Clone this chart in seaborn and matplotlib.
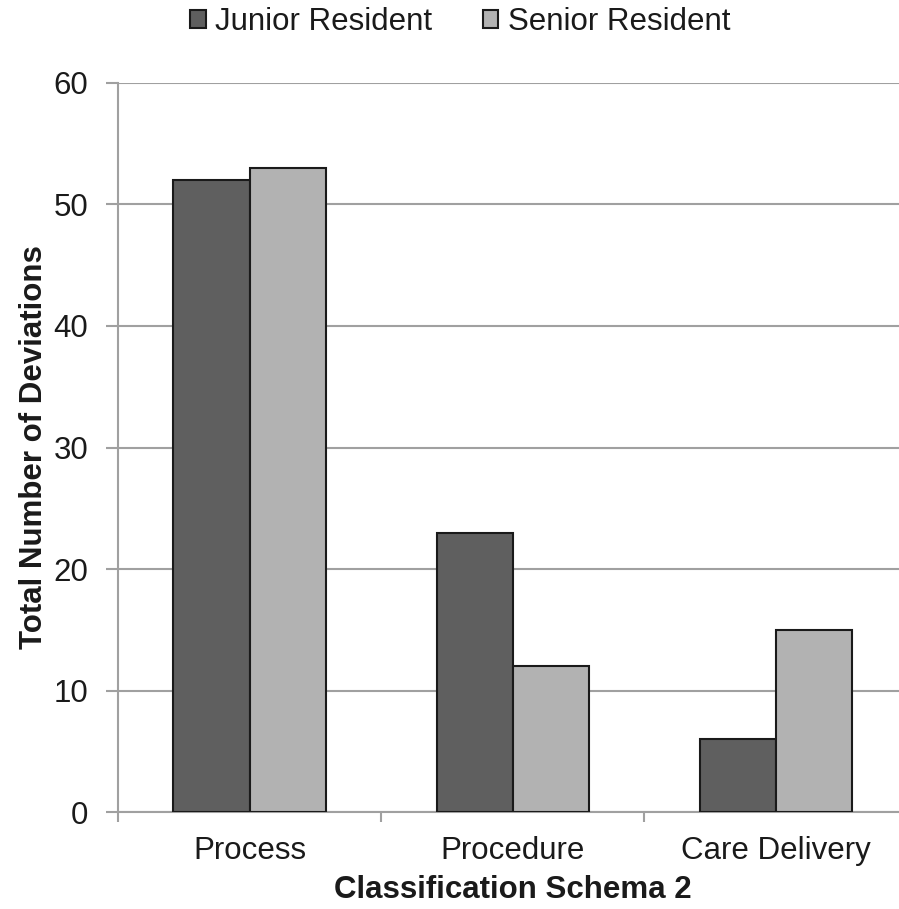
import matplotlib
matplotlib.use("Agg")
import matplotlib.pyplot as plt
from matplotlib.patches import Patch
from matplotlib.ticker import FixedLocator
import pandas as pd
import seaborn as sns

categories = ["Process", "Procedure", "Care Delivery"]
junior = [52, 23, 6]
senior = [53, 12, 15]
series = ["Junior Resident", "Senior Resident"]
colors = ["#5f5f5f", "#b2b2b2"]
y_ticks = [0, 10, 20, 30, 40, 50, 60]

df = pd.DataFrame({
    "Category": categories * 2,
    "Deviations": junior + senior,
    "Resident": [series[0]] * len(categories) + [series[1]] * len(categories),
})

sns.set_theme(style="white")
plt.rcParams["font.family"] = ["Liberation Sans", "DejaVu Sans"]
FS = 22.5
GRID = "#a0a0a0"
TEXT = "#1a1a1a"

fig = plt.figure(figsize=(8.99, 9.09), dpi=100)
ax = fig.add_axes([0.1315, 0.1067, 0.878, 0.802])

sns.barplot(data=df, x="Category", y="Deviations", hue="Resident",
            order=categories, hue_order=series, palette=colors,
            width=0.58, gap=0, edgecolor="#1a1a1a", linewidth=1.5,
            saturation=1, legend=False, ax=ax, zorder=3)

ax.set_xlim(-0.5, 2.5)
ax.set_ylim(0, 60)
ax.set_yticks(y_ticks)
ax.yaxis.grid(True, color=GRID, linewidth=1.5, zorder=0)
ax.set_axisbelow(True)

for side in ("top", "right"):
    ax.spines[side].set_visible(False)
for side in ("left", "bottom"):
    ax.spines[side].set_color(GRID)
    ax.spines[side].set_linewidth(1.5)

ax.tick_params(axis="y", which="major", direction="out", length=8.5,
               width=1.5, color=GRID, pad=13, labelsize=FS, labelcolor=TEXT,
               left=True)
ax.tick_params(axis="x", which="major", length=0, pad=17,
               labelsize=FS, labelcolor=TEXT)
ax.xaxis.set_minor_locator(FixedLocator([-0.5, 0.5, 1.5, 2.5]))
ax.tick_params(axis="x", which="minor", direction="out", length=7.5,
               width=1.5, color=GRID, bottom=True)

ax.set_xlabel("Classification Schema 2", fontsize=FS, fontweight="bold",
              color=TEXT, labelpad=7)
ax.set_ylabel("Total Number of Deviations", fontsize=FS, fontweight="bold",
              color=TEXT, labelpad=3)

handles = [Patch(facecolor=c, edgecolor="#1a1a1a", linewidth=1.5, label=s)
           for c, s in zip(colors, series)]
fig.legend(handles=handles, loc="center", bbox_to_anchor=(0.512, 0.976),
           ncol=2, frameon=False, fontsize=FS, handlelength=0.5,
           handleheight=0.5, handletextpad=0.3, columnspacing=1.6,
           labelcolor=TEXT, borderpad=0)

fig.savefig("out.png", dpi=100, facecolor="white")
